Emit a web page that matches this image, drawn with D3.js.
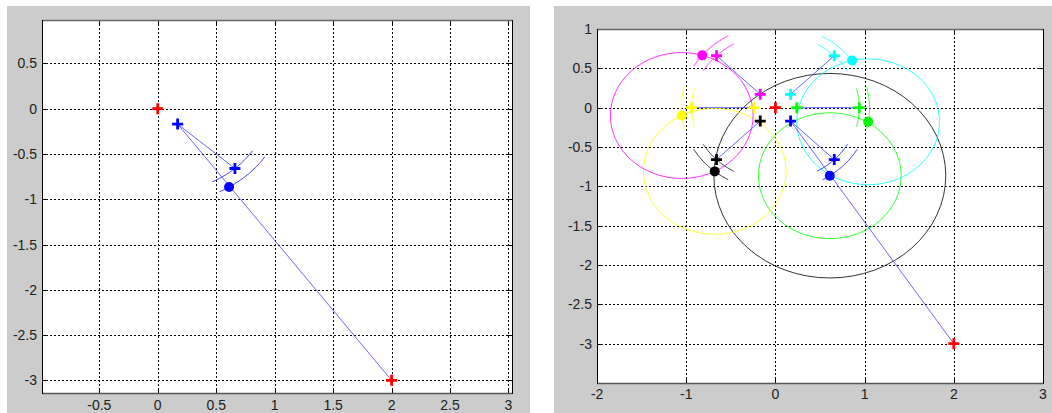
<!DOCTYPE html>
<html>
<head>
<meta charset="utf-8">
<script src="https://cdn.jsdelivr.net/npm/d3@7"></script>
<style>
  body { margin: 0; background: #fff; }
  svg { display: block; }
  text { font-family: Arial, "Liberation Sans", sans-serif; font-size: 14px; fill: #222; }
</style>
</head>
<body>
<svg id="fig" width="1052" height="413"></svg>
<script>
// Fixed beacons (red crosses)
const anchors = [[0, 0], [2, -3]];

// Agents: blue, black, yellow, magenta, cyan, green
const agentNames = ["blue", "black", "yellow", "magenta", "cyan", "green"];
const innerPts = [[0.17, -0.17], [-0.17, -0.17], [-0.24, 0], [-0.17, 0.17], [0.17, 0.17], [0.24, 0]];
const outerPts = [[0.66, -0.66], [-0.66, -0.66], [-0.94, 0], [-0.66, 0.66], [0.66, 0.66], [0.94, 0]];
const estPts   = [[0.61, -0.865], [-0.68, -0.81], [-1.05, -0.10], [-0.82, 0.665], [0.86, 0.60], [1.04, -0.18]];
const headingDeg = [-45, -135, 180, 135, 45, 0];
const arcSpreadDeg = 15;

// Range circles: centred on an agent's estimate
const rangeCenterAgent = [0, 0, 1, 2, 5];
const rangeRadius = [1.3, 0.8, 0.8, 0.8, 0.8];
const rangeColorAgent = [1, 5, 2, 3, 4];

// Tick labels
const leftXTicks = [-0.5, 0, 0.5, 1, 1.5, 2, 2.5, 3];
const leftYTicks = [0.5, 0, -0.5, -1, -1.5, -2, -2.5, -3];
const rightXTicks = [-2, -1, 0, 1, 2, 3];
const rightYTicks = [1, 0.5, 0, -0.5, -1, -1.5, -2, -2.5, -3];

// Styling
const agentColor = {blue: "#0000ff", black: "#000000", yellow: "#ffff00", magenta: "#ff00ff", cyan: "#00ffff", green: "#00ff00"};
const linkColor = "#4444ff";

const svg = d3.select("#fig");

// figure backgrounds
svg.append("rect").attr("x", 7).attr("y", 6).attr("width", 523).attr("height", 407).attr("fill", "#cccccc");
svg.append("rect").attr("x", 554).attr("y", 6).attr("width", 498).attr("height", 407).attr("fill", "#cccccc");

function drawAxes(box, xDom, yDom, xTicks, yTicks, labelGap, agentsShown, showRanges) {
  const x = d3.scaleLinear().domain(xDom).range([box.l, box.r]);
  const y = d3.scaleLinear().domain(yDom).range([box.b, box.t]);
  const g = svg.append("g");
  const snap = v => Math.round(v) + 0.5;

  g.append("rect").attr("x", box.l).attr("y", box.t).attr("width", box.r - box.l).attr("height", box.b - box.t).attr("fill", "#fff");

  const clipId = "clip" + Math.round(box.l);
  g.append("clipPath").attr("id", clipId).append("rect")
    .attr("x", box.l).attr("y", box.t).attr("width", box.r - box.l).attr("height", box.b - box.t);

  // dotted grid
  const grid = g.append("g").attr("stroke", "#000").attr("stroke-width", 1)
    .attr("stroke-dasharray", "2,2").attr("shape-rendering", "crispEdges");
  xTicks.forEach(v => grid.append("line").attr("x1", snap(x(v))).attr("x2", snap(x(v))).attr("y1", box.t).attr("y2", box.b));
  yTicks.forEach(v => grid.append("line").attr("y1", snap(y(v))).attr("y2", snap(y(v))).attr("x1", box.l).attr("x2", box.r));

  // inward tick marks on all four sides
  const tk = g.append("g").attr("stroke", "#000").attr("stroke-width", 1).attr("shape-rendering", "crispEdges");
  const L = 5;
  xTicks.forEach(v => {
    tk.append("line").attr("x1", snap(x(v))).attr("x2", snap(x(v))).attr("y1", box.b).attr("y2", box.b - L);
    tk.append("line").attr("x1", snap(x(v))).attr("x2", snap(x(v))).attr("y1", box.t).attr("y2", box.t + L);
  });
  yTicks.forEach(v => {
    tk.append("line").attr("y1", snap(y(v))).attr("y2", snap(y(v))).attr("x1", box.l).attr("x2", box.l + L);
    tk.append("line").attr("y1", snap(y(v))).attr("y2", snap(y(v))).attr("x1", box.r).attr("x2", box.r - L);
  });

  // tick labels
  xTicks.forEach(v => g.append("text").attr("x", x(v)).attr("y", box.b + labelGap)
    .attr("text-anchor", "middle").text(String(v)));
  yTicks.forEach(v => g.append("text").attr("x", box.l - 5).attr("y", y(v) + 5)
    .attr("text-anchor", "end").text(String(v)));

  const plot = g.append("g").attr("clip-path", `url(#${clipId})`);

  // range circles (ellipses in pixel space because of unequal axis scaling)
  if (showRanges) {
    rangeRadius.forEach((r, i) => {
      const c = estPts[rangeCenterAgent[i]];
      plot.append("ellipse")
        .attr("cx", x(c[0])).attr("cy", y(c[1]))
        .attr("rx", Math.abs(x(r) - x(0))).attr("ry", Math.abs(y(r) - y(0)))
        .attr("fill", "none").attr("stroke", agentColor[agentNames[rangeColorAgent[i]]])
        .attr("stroke-width", 1).attr("stroke-opacity", 0.8);
    });
  }

  const line = d3.line().x(d => x(d[0])).y(d => y(d[1]));

  // bearing arcs around the origin through each agent's outer point and estimate
  agentsShown.forEach(i => {
    const col = agentColor[agentNames[i]];
    [outerPts[i], estPts[i]].forEach(p => {
      const r = Math.hypot(p[0], p[1]);
      const a0 = (headingDeg[i] - arcSpreadDeg) * Math.PI / 180;
      const a1 = (headingDeg[i] + arcSpreadDeg) * Math.PI / 180;
      const pts = d3.range(0, 31).map(k => {
        const a = a0 + (a1 - a0) * k / 30;
        return [r * Math.cos(a), r * Math.sin(a)];
      });
      plot.append("path").attr("d", line(pts)).attr("fill", "none")
        .attr("stroke", col).attr("stroke-width", 1).attr("stroke-opacity", 0.75);
    });
  });

  // links
  agentsShown.forEach(i => {
    plot.append("path").attr("d", line([innerPts[i], outerPts[i]])).attr("fill", "none")
      .attr("stroke", linkColor).attr("stroke-width", 1).attr("stroke-opacity", 0.8);
  });
  if (agentsShown.includes(0)) {
    plot.append("path").attr("d", line([innerPts[0], anchors[1]])).attr("fill", "none")
      .attr("stroke", linkColor).attr("stroke-width", 1).attr("stroke-opacity", 0.8);
  }

  // markers
  const plus = (p, col) => plot.append("path")
    .attr("d", `M${x(p[0]) - 5.5},${y(p[1])}H${x(p[0]) + 5.5}M${x(p[0])},${y(p[1]) - 5.5}V${y(p[1]) + 5.5}`)
    .attr("stroke", col).attr("stroke-width", 2.8).attr("fill", "none");
  const dot = (p, col) => plot.append("circle").attr("cx", x(p[0])).attr("cy", y(p[1])).attr("r", 5).attr("fill", col);

  agentsShown.forEach(i => {
    const col = agentColor[agentNames[i]];
    dot(estPts[i], col);
    plus(innerPts[i], col);
    plus(outerPts[i], col);
  });
  anchors.forEach(p => plus(p, "#ff0000"));

  // axes box
  g.append("line").attr("x1", box.l).attr("x2", box.r).attr("y1", box.t + 0.5).attr("y2", box.t + 0.5).attr("stroke", "#666").attr("stroke-width", 1.5);
  g.append("line").attr("x1", box.l).attr("x2", box.r).attr("y1", box.b + 0.5).attr("y2", box.b + 0.5).attr("stroke", "#555").attr("stroke-width", 1.5);
  g.append("line").attr("x1", box.l + 0.5).attr("x2", box.l + 0.5).attr("y1", box.t).attr("y2", box.b + 1).attr("stroke", "#000");
  g.append("line").attr("x1", box.r + 0.5).attr("x2", box.r + 0.5).attr("y1", box.t).attr("y2", box.b + 1).attr("stroke", "#000");
}

drawAxes({l: 42, r: 512, t: 20, b: 393}, [-0.99, 3.03], [-3.14, 0.98], leftXTicks, leftYTicks, 17, [0], false);
drawAxes({l: 597, r: 1043, t: 29, b: 383}, [-2, 3], [-3.5, 1], rightXTicks, rightYTicks, 16, [0, 1, 2, 3, 4, 5], true);
</script>
</body>
</html>
